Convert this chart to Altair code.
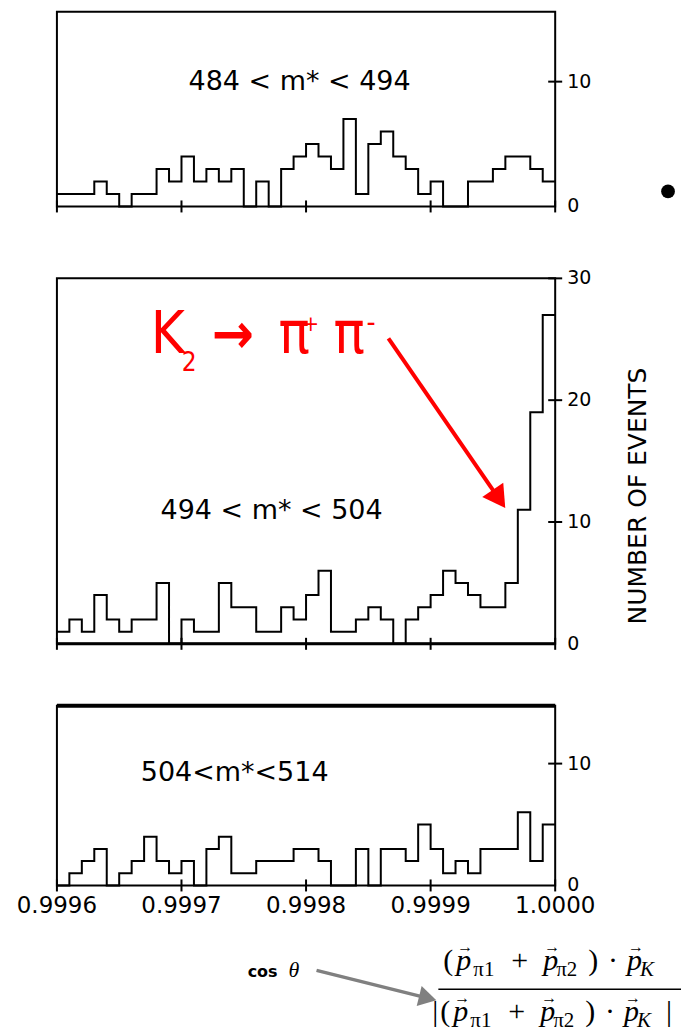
import math
import altair as alt
import pandas as pd

# ---------------- data ----------------
bin_start = 0.9996
bin_width = 0.00001

counts_484_494 = [1, 1, 1, 2, 1, 0, 1, 1, 3, 2, 4, 2, 3, 2, 3, 0, 2, 0, 3, 4,
                  5, 4, 3, 7, 1, 5, 6, 4, 3, 1, 2, 0, 0, 2, 2, 3, 4, 4, 3, 2]
counts_494_504 = [1, 2, 1, 4, 2, 1, 2, 2, 5, 0, 2, 1, 1, 5, 3, 3, 1, 1, 3, 2,
                  4, 6, 1, 1, 2, 3, 2, 0, 2, 3, 4, 6, 5, 4, 3, 3, 5, 11, 19, 27]
counts_504_514 = [0, 1, 2, 3, 0, 1, 2, 4, 2, 1, 2, 0, 3, 4, 1, 1, 2, 2, 2, 3,
                  3, 2, 0, 0, 3, 0, 3, 3, 2, 5, 3, 1, 2, 1, 3, 3, 3, 6, 2, 5]

x_tick_values = [0.9996, 0.9997, 0.9998, 0.9999, 1.0000]
x_tick_labels = ["0.9996", "0.9997", "0.9998", "0.9999", "1.0000"]
y_ticks_outer = [0, 10]
y_ticks_middle = [0, 10, 20, 30]
panel_labels = ["484 < m* < 494", "494 < m* < 504", "504<m*<514"]
y_title = "NUMBER    OF    EVENTS"
red_pieces = ["K", "2", "\u2192", "\u03c0", "+", "\u03c0", "-"]
cos_label = ["cos", "\u03b8"]
formula_pieces = ["(", "p", "\u03c01", "+", "p", "\u03c02", ")", "\u00b7", "p", "K"]

# ---------------- layout ----------------
W = 499
H_TOP, H_MID, H_BOT = 195, 366, 180
GAP1, GAP2 = 72, 62
O_TOP, O_MID, O_BOT = (56, 10), (56, 277), (56, 705)
RED = "#ff0000"
SANS = "DejaVu Sans"

xscale = alt.Scale(domain=[0.9996, 1.0], nice=False, zero=False)


def one(s):
    return pd.DataFrame({"s": [s]})


def step_frame(counts):
    edges = [round(bin_start + i * bin_width, 6) for i in range(len(counts) + 1)]
    return pd.DataFrame({"cos": edges, "n": list(counts) + [counts[-1]]})


def text_at(s, X, Y, origin, size, font=SANS, color="black",
            style="normal", weight="normal", align="left",
            baseline="alphabetic", angle=0):
    return alt.Chart(one(s)).mark_text(
        font=font, fontSize=size, color=color, fontStyle=style,
        fontWeight=weight, align=align, baseline=baseline, angle=angle
    ).encode(text="s:N", x=alt.value(X - origin[0]), y=alt.value(Y - origin[1]))


def rule_at(X0, Y0, X1, Y1, origin, color="black", width=2):
    return alt.Chart(one("r")).mark_rule(color=color, strokeWidth=width).encode(
        x=alt.value(X0 - origin[0]), y=alt.value(Y0 - origin[1]),
        x2=alt.value(X1 - origin[0]), y2=alt.value(Y1 - origin[1]))


def arrow(X0, Y0, TX, TY, origin, color, width, head_size):
    dx, dy = TX - X0, TY - Y0
    L = math.hypot(dx, dy)
    ux, uy = dx / L, dy / L
    r = math.sqrt(head_size) / 2
    h = math.sqrt(3) * r / 2
    cx, cy = TX - h * ux, TY - h * uy
    ang = math.degrees(math.atan2(dx, -dy)) % 360
    shaft = rule_at(X0, Y0, cx, cy, origin, color, width)
    head = alt.Chart(one("h")).mark_point(
        shape="triangle-up", size=head_size, filled=True, color=color,
        opacity=1, angle=ang
    ).encode(x=alt.value(cx - origin[0]), y=alt.value(cy - origin[1]))
    return [shaft, head]


def panel(counts, h, ymax, yticks, label, label_pos, origin, bottom=False, extras=()):
    ys = alt.Scale(domain=[0, ymax], nice=False, zero=True)
    hist = alt.Chart(step_frame(counts)).mark_line(
        interpolate="step-after", color="black", strokeWidth=2
    ).encode(x=alt.X("cos:Q", scale=xscale, axis=None),
             y=alt.Y("n:Q", scale=ys, axis=None))
    xt = alt.Chart(pd.DataFrame({"t": x_tick_values})).mark_rule(
        color="black", strokeWidth=2
    ).encode(x=alt.X("t:Q", scale=xscale, axis=None),
             y=alt.value(h - 6), y2=alt.value(h + 6))
    yt = alt.Chart(pd.DataFrame({"v": [v for v in yticks if v > 0]})).mark_rule(
        color="black", strokeWidth=2
    ).encode(y=alt.Y("v:Q", scale=ys, axis=None),
             x=alt.value(W - 7), x2=alt.value(W + 7))
    yl = alt.Chart(pd.DataFrame({"v": yticks, "lab": [str(v) for v in yticks]})).mark_text(
        font=SANS, fontSize=19, align="left", baseline="middle", color="black"
    ).encode(y=alt.Y("v:Q", scale=ys, axis=None), x=alt.value(W + 12), text="lab:N")
    layers = [hist, xt, yt, yl]
    if bottom:
        xl = alt.Chart(pd.DataFrame({"t": x_tick_values, "lab": x_tick_labels})).mark_text(
            font=SANS, fontSize=23, align="center", baseline="middle", color="black"
        ).encode(x=alt.X("t:Q", scale=xscale, axis=None), y=alt.value(h + 21), text="lab:N")
        layers.append(xl)
    lab = text_at(label, label_pos[0], label_pos[1], origin, 27,
                  align="center", baseline="middle")
    return alt.layer(*layers, lab, *extras).properties(width=W, height=h)


def spacer(h):
    return alt.Chart(one("sp")).mark_point(opacity=0).encode(
        x=alt.value(0), y=alt.value(0)
    ).properties(width=W, height=h, view=alt.ViewBackground(strokeOpacity=0))


# ---- top panel extras ----
top_extras = [
    rule_at(0.5, 0.5, 2, 1, O_TOP, color="white", width=1),  # bounds anchor
    alt.Chart(one("b")).mark_point(shape="circle", size=190, filled=True,
                                   color="black", opacity=1).encode(
        x=alt.value(668 - O_TOP[0]), y=alt.value(190 - O_TOP[1])),
]

# ---- middle panel extras ----
NARROW = "Liberation Sans Narrow, DejaVu Sans Condensed, sans-serif"
mid_extras = [
    text_at(red_pieces[0], 150, 352, O_MID, 58, font=NARROW, color=RED),
    text_at(red_pieces[1], 181, 370, O_MID, 26, font=NARROW, color=RED),
    text_at(red_pieces[2], 211, 352, O_MID, 56, font=NARROW, color=RED, weight="bold"),
    text_at(red_pieces[3], 278, 352, O_MID, 58, font=NARROW, color=RED),
    text_at(red_pieces[4], 302, 330, O_MID, 22, font=NARROW, color=RED),
    text_at(red_pieces[5], 333, 352, O_MID, 58, font=NARROW, color=RED),
    text_at(red_pieces[6], 366, 331, O_MID, 28, font=NARROW, color=RED),
    *arrow(388, 337, 505, 507, O_MID, RED, 4, 650),
    text_at(y_title, 638, 495, O_MID, 25, align="center", baseline="middle", angle=270),
    rule_at(56, 643, 555, 643, O_MID, width=3),
]

# ---- bottom panel extras ----
SERIF = "Liberation Serif, DejaVu Serif, serif"
NUM_B, DEN_B = 970, 1021
num_x = [443, 456, 473, 511, 543, 556, 588, 608, 627, 640]
num_kind = ["n", "i", "s", "n", "i", "s", "n", "n", "i", "si"]


def formula_line(xs, base, shift):
    out = []
    for piece, x, kind in zip(formula_pieces, xs, num_kind):
        X = x + shift
        if kind == "n":
            out.append(text_at(piece, X, base, O_BOT, 30, font=SERIF))
        elif kind == "i":
            out.append(text_at(piece, X, base, O_BOT, 30, font=SERIF, style="italic"))
            out.append(text_at("\u2192", X + 9, base - 18, O_BOT, 16, font=SERIF,
                               align="center"))
        elif kind == "s":
            out.append(text_at(piece, X, base + 6, O_BOT, 21, font=SERIF))
        else:
            out.append(text_at(piece, X, base + 6, O_BOT, 21, font=SERIF, style="italic"))
    return out


bot_extras = [
    rule_at(56, 705, 555, 705, O_BOT, width=4),
    text_at(cos_label[0], 247, 977, O_BOT, 16, weight="bold"),
    text_at(cos_label[1], 288, 977, O_BOT, 22, font=SERIF, style="italic"),
    *arrow(316, 970, 436, 1000, O_BOT, "#808080", 3.5, 420),
    rule_at(438, 989, 681, 989, O_BOT, width=1.5),
    *formula_line(num_x, NUM_B, 0),
    text_at("|", 432, DEN_B, O_BOT, 30, font=SERIF),
    *formula_line(num_x, DEN_B, -3),
    text_at("|", 666, DEN_B, O_BOT, 30, font=SERIF),
]

top = panel(counts_484_494, H_TOP, 15.6, y_ticks_outer, panel_labels[0],
            (299, 80), O_TOP, extras=top_extras)
mid = panel(counts_494_504, H_MID, 30, y_ticks_middle, panel_labels[1],
            (271, 510), O_MID, extras=mid_extras)
bot = panel(counts_504_514, H_BOT, 14.75, y_ticks_outer, panel_labels[2],
            (234, 772), O_BOT, bottom=True, extras=bot_extras)

chart = alt.vconcat(top, spacer(GAP1), mid, spacer(GAP2), bot,
                    spacing=0, bounds="flush").properties(
    padding=0, background="white"
).configure_view(stroke="black", strokeWidth=2)

chart.save("out.html", embed_options={"renderer": "svg", "actions": False})
